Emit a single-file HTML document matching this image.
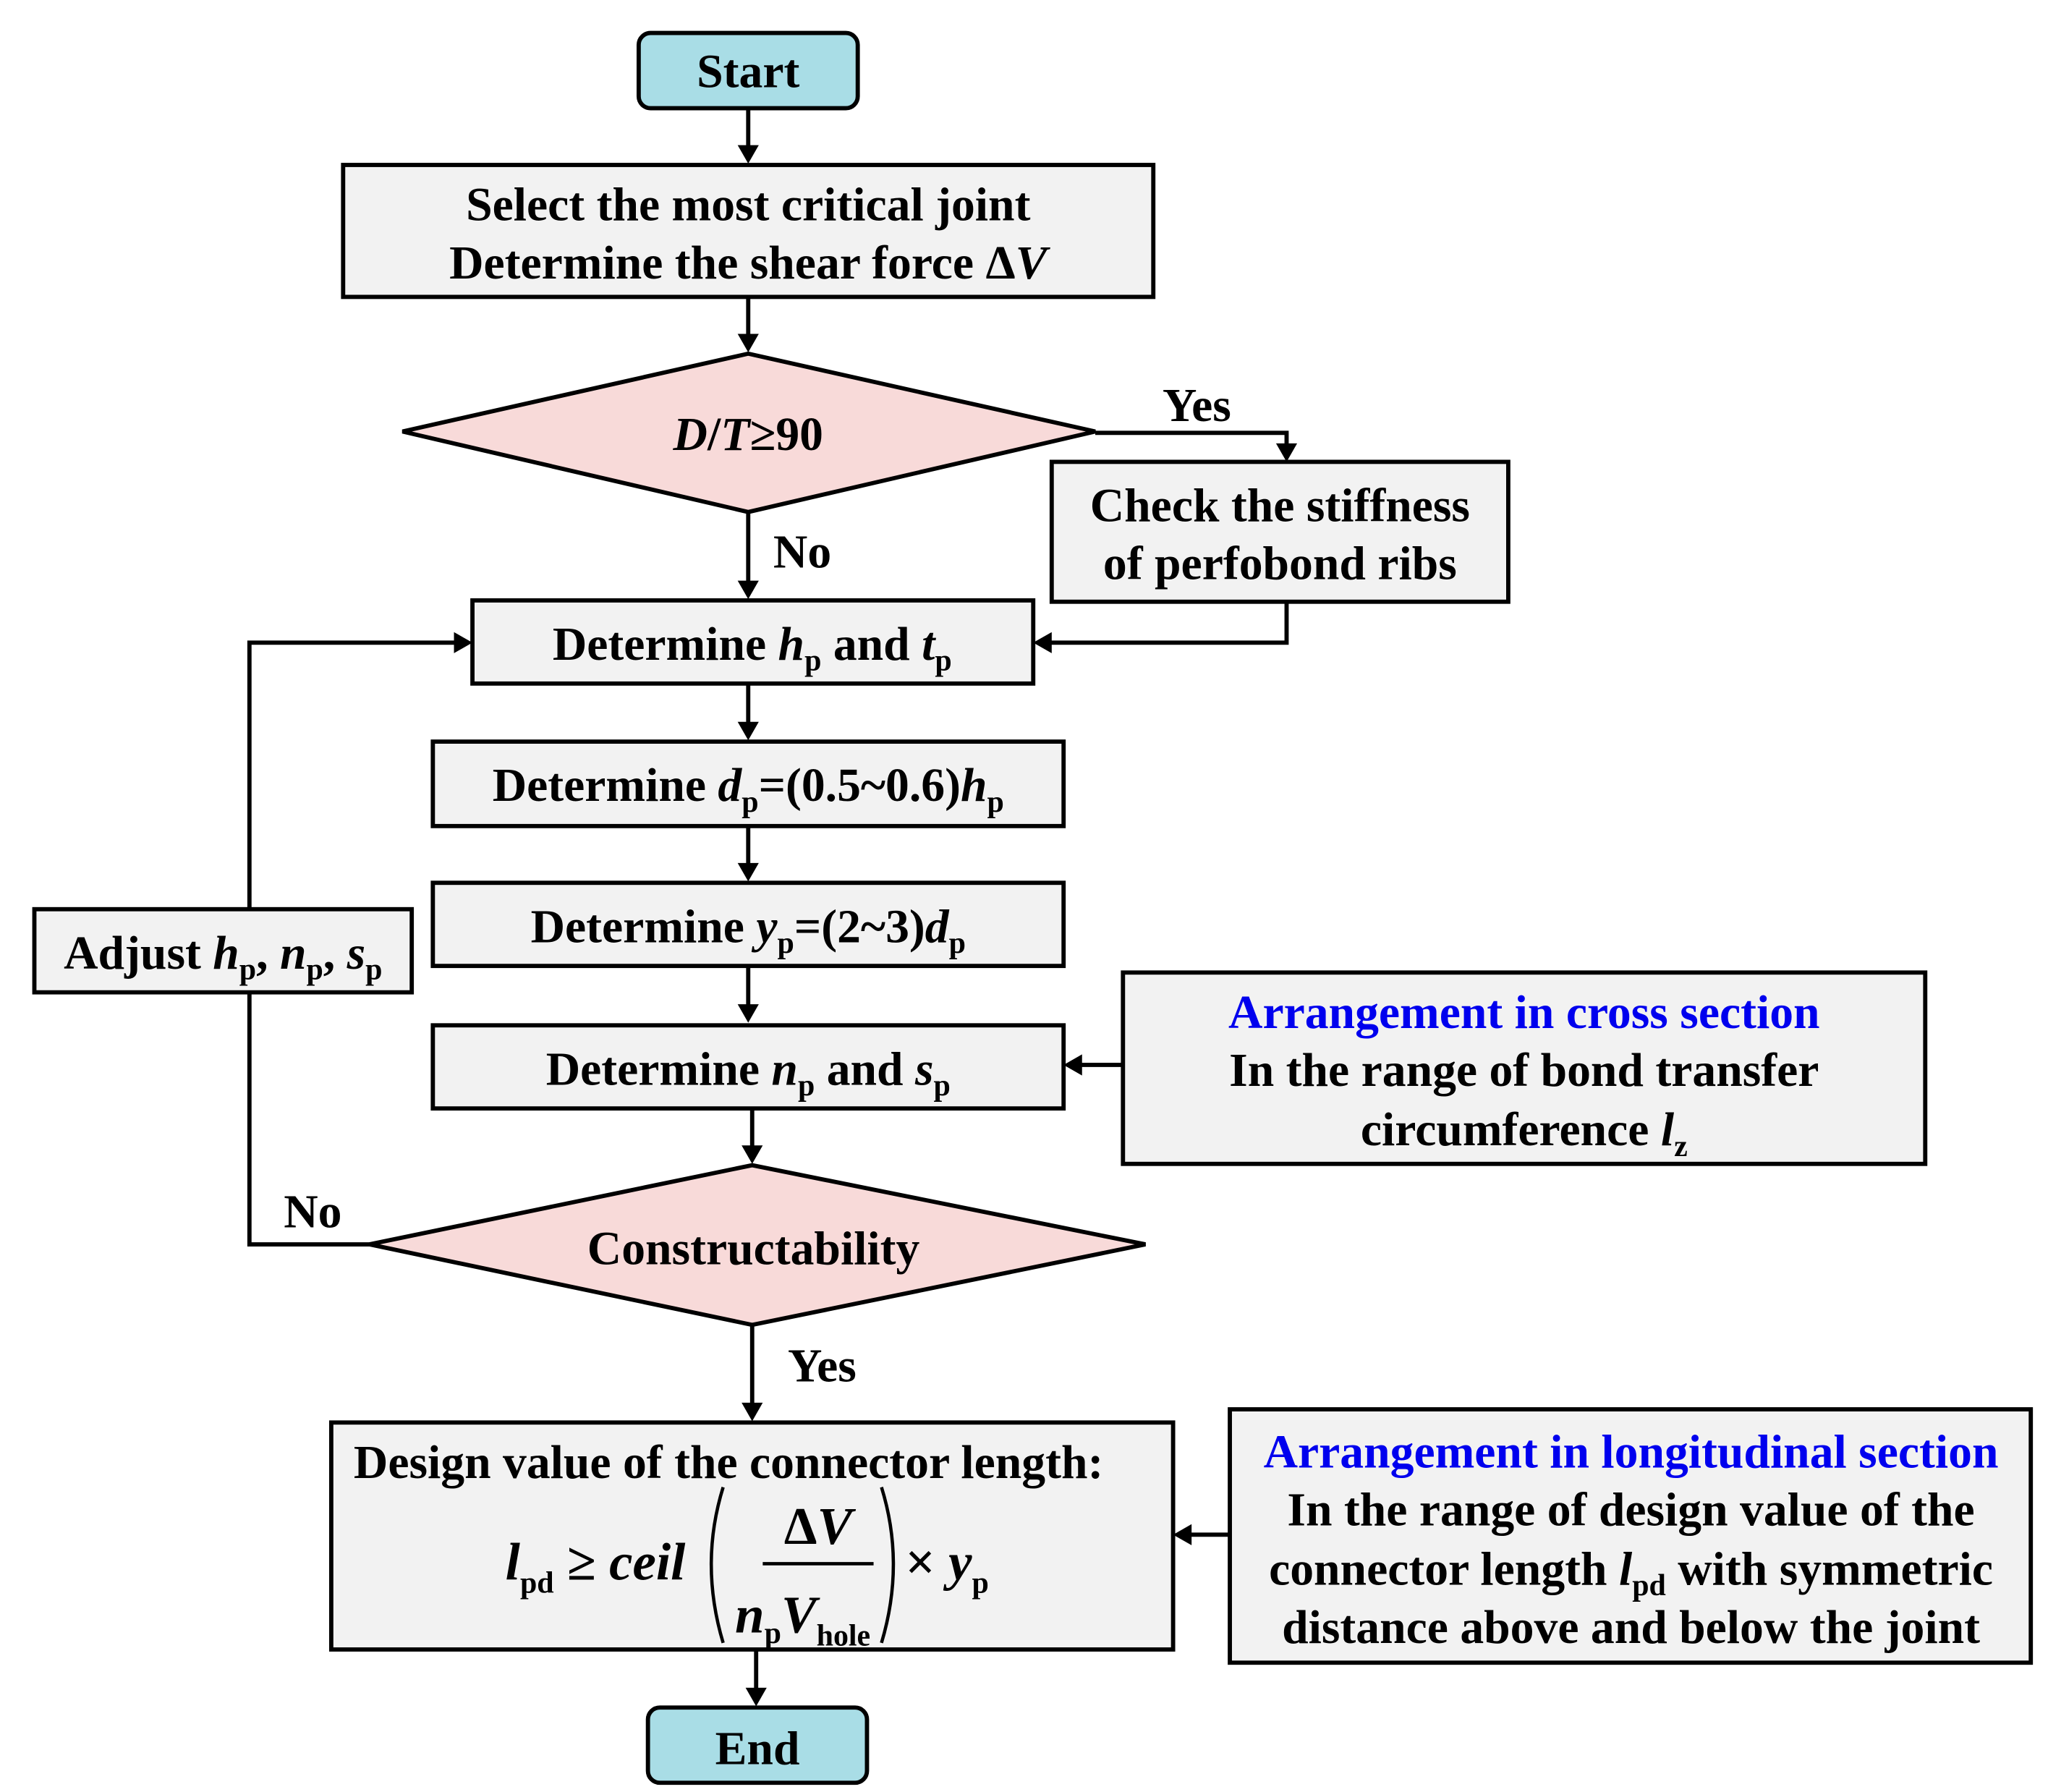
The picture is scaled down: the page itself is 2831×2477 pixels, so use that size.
<!DOCTYPE html>
<html><head><meta charset="utf-8"><style>
html,body{margin:0;padding:0;background:#fff;}
svg{display:block;}
text{font-family:"Liberation Serif",serif;font-weight:bold;font-size:36px;fill:#000;}
.i{font-style:italic;}
.s{font-size:23px;}
.b{fill:#0000ee;}
</style></head><body>
<svg width="2831" height="2477" viewBox="0 0 1552 1358" xmlns="http://www.w3.org/2000/svg">
<g stroke="#000" stroke-width="3.2">
<rect x="484" y="25" width="166" height="57" rx="9" fill="#a9dde6"/>
<rect x="260" y="125" width="614" height="100" fill="#f2f2f2"/>
<polygon points="305,327 567,268 830,327 567,388" fill="#f8dad9"/>
<rect x="797" y="350" width="346" height="106" fill="#f2f2f2"/>
<rect x="358" y="455" width="425" height="63" fill="#f2f2f2"/>
<rect x="328" y="562" width="478" height="64" fill="#f2f2f2"/>
<rect x="328" y="669" width="478" height="63" fill="#f2f2f2"/>
<rect x="328" y="777" width="478" height="63" fill="#f2f2f2"/>
<rect x="851" y="737" width="608" height="145" fill="#f2f2f2"/>
<polygon points="280,943 570,883 868,943 570,1004" fill="#f8dad9"/>
<polyline points="280,943 189,943 189,487 350,487" fill="none"/>
<rect x="26" y="689" width="286" height="63" fill="#f2f2f2"/>
<rect x="251" y="1078" width="638" height="172" fill="#f2f2f2"/>
<rect x="932" y="1068" width="607" height="192" fill="#f2f2f2"/>
<rect x="491" y="1294" width="166" height="57" rx="9" fill="#a9dde6"/>
<g fill="none">
<line x1="567" y1="82" x2="567" y2="118"/>
<line x1="567" y1="225" x2="567" y2="261"/>
<polyline points="830,328 975,328 975,343"/>
<polyline points="975,456 975,487 790,487"/>
<line x1="567" y1="388" x2="567" y2="447"/>
<line x1="567" y1="518" x2="567" y2="555"/>
<line x1="567" y1="626" x2="567" y2="662"/>
<line x1="567" y1="732" x2="567" y2="769"/>
<line x1="570" y1="840" x2="570" y2="876"/>
<line x1="851" y1="807" x2="813" y2="807"/>
<line x1="570" y1="1004" x2="570" y2="1070"/>
<line x1="932" y1="1163" x2="896" y2="1163"/>
<line x1="573" y1="1250" x2="573" y2="1286"/>
<line x1="578" y1="1185" x2="662" y2="1185" stroke-width="2.5"/>
<path d="M548,1127 Q530,1185 548,1245" stroke-width="2.5"/>
<path d="M668,1127 Q686,1185 668,1245" stroke-width="2.5"/>
</g>
</g>
<g fill="#000">
<polygon points="567,124 559,110 575,110"/>
<polygon points="567,267 559,253 575,253"/>
<polygon points="975,350 967,336 983,336"/>
<polygon points="783,487 797,479 797,495"/>
<polygon points="567,454 559,440 575,440"/>
<polygon points="567,561 559,547 575,547"/>
<polygon points="567,668 559,654 575,654"/>
<polygon points="567,775 559,761 575,761"/>
<polygon points="570,882 562,868 578,868"/>
<polygon points="806,807 820,799 820,815"/>
<polygon points="358,487 344,479 344,495"/>
<polygon points="570,1077 562,1063 578,1063"/>
<polygon points="889,1163 903,1155 903,1171"/>
<polygon points="573,1293 565,1279 581,1279"/>
</g>
<text x="567" y="66" text-anchor="middle">Start</text>
<text x="567" y="167" text-anchor="middle">Select the most critical joint</text>
<text x="567" y="211" text-anchor="middle">Determine the shear force Δ<tspan class="i">V</tspan></text>
<text x="567" y="341" text-anchor="middle"><tspan class="i">D</tspan>/<tspan class="i">T</tspan>≥90</text>
<text x="907" y="319" text-anchor="middle">Yes</text>
<text x="970" y="395" text-anchor="middle">Check the stiffness</text>
<text x="970" y="439" text-anchor="middle">of perfobond ribs</text>
<text x="608" y="430" text-anchor="middle">No</text>
<text x="570" y="500" text-anchor="middle">Determine <tspan class="i">h</tspan><tspan class="s" dy="8">p</tspan><tspan dy="-8"> and </tspan><tspan class="i">t</tspan><tspan class="s" dy="8">p</tspan></text>
<text x="567" y="607" text-anchor="middle">Determine <tspan class="i">d</tspan><tspan class="s" dy="8">p</tspan><tspan dy="-8">=(0.5~0.6)</tspan><tspan class="i">h</tspan><tspan class="s" dy="8">p</tspan></text>
<text x="567" y="714" text-anchor="middle">Determine <tspan class="i">y</tspan><tspan class="s" dy="8">p</tspan><tspan dy="-8">=(2~3)</tspan><tspan class="i">d</tspan><tspan class="s" dy="8">p</tspan></text>
<text x="567" y="822" text-anchor="middle">Determine <tspan class="i">n</tspan><tspan class="s" dy="8">p</tspan><tspan dy="-8"> and </tspan><tspan class="i">s</tspan><tspan class="s" dy="8">p</tspan></text>
<text x="1155" y="779" text-anchor="middle" class="b">Arrangement in cross section</text>
<text x="1155" y="823" text-anchor="middle">In the range of bond transfer</text>
<text x="1155" y="868" text-anchor="middle">circumference <tspan class="i">l</tspan><tspan class="s" dy="8">z</tspan></text>
<text x="169" y="734" text-anchor="middle">Adjust <tspan class="i">h</tspan><tspan class="s" dy="8">p</tspan><tspan dy="-8">, </tspan><tspan class="i">n</tspan><tspan class="s" dy="8">p</tspan><tspan dy="-8">, </tspan><tspan class="i">s</tspan><tspan class="s" dy="8">p</tspan></text>
<text x="571" y="958" text-anchor="middle">Constructability</text>
<text x="237" y="930" text-anchor="middle">No</text>
<text x="623" y="1047" text-anchor="middle">Yes</text>
<text x="268" y="1120">Design value of the connector length:</text>
<text x="383" y="1197" class="i" style="font-size:40px">l<tspan class="s" style="font-style:normal" dy="10">pd</tspan><tspan dy="-10" style="font-style:normal"> ≥ </tspan>ceil</text>
<text x="620" y="1170" text-anchor="middle" style="font-size:40px">Δ<tspan class="i">V</tspan></text>
<text x="557" y="1237" class="i" style="font-size:40px">n<tspan class="s" style="font-style:normal" dy="8">p</tspan><tspan dy="-8">V</tspan><tspan class="s" style="font-style:normal" dy="10">hole</tspan></text>
<text x="686" y="1197" style="font-size:40px">× <tspan class="i">y</tspan><tspan class="s" dy="10">p</tspan></text>
<text x="1236" y="1112" text-anchor="middle" class="b">Arrangement in longitudinal section</text>
<text x="1236" y="1156" text-anchor="middle">In the range of design value of the</text>
<text x="1236" y="1201" text-anchor="middle">connector length <tspan class="i">l</tspan><tspan class="s" dy="8">pd</tspan><tspan dy="-8"> with symmetric</tspan></text>
<text x="1236" y="1245" text-anchor="middle">distance above and below the joint</text>
<text x="574" y="1337" text-anchor="middle">End</text>
</svg>
</body></html>
